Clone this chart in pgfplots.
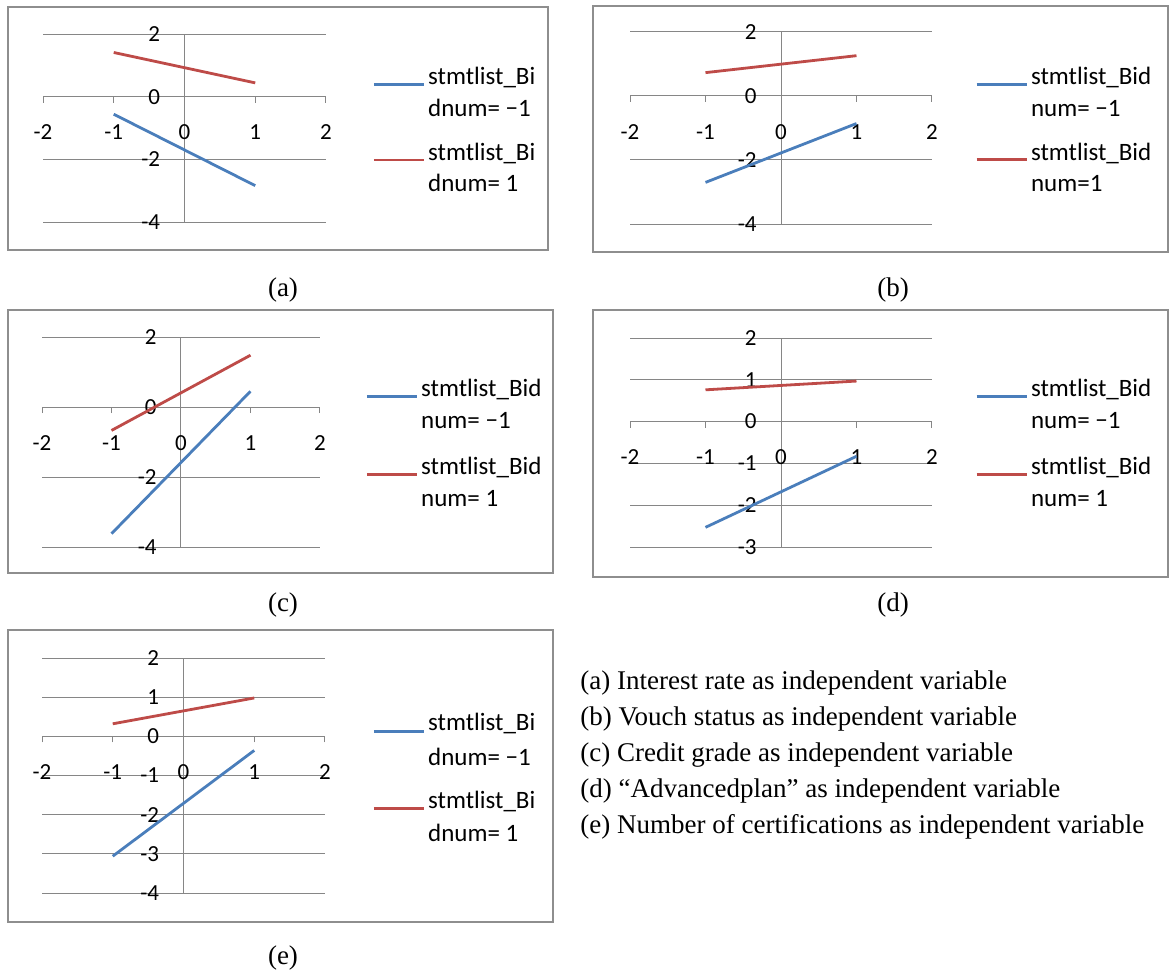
\documentclass[border=0pt]{standalone}
\usepackage{fontspec}
\setmainfont{Liberation Serif}
\newfontfamily\carlito{Carlito}
\usepackage{pgfplots}
\pgfplotsset{compat=1.18}
\definecolor{xblue}{HTML}{4A7EBB}
\definecolor{xred}{HTML}{BE4B48}
\definecolor{xgrid}{HTML}{868686}
\definecolor{xframe}{HTML}{8E8E8E}
\pgfplotsset{
  legend image code/.code={\path[draw=none,fill=none] (0pt,-7.5pt) -- (0pt,0.5pt); \draw[#1] (0pt,0pt) -- (25pt,0pt);},
  panel/.style={
    scale only axis, axis lines=middle,
    axis line style={draw=xgrid, line width=0.5pt, -},
    xmin=-2, xmax=2, xtick={-2,-1,0,1,2},
    ymajorgrids, grid style={draw=xgrid, line width=0.5pt},
    enlargelimits=false, clip=false,
    hide obscured x ticks=false, hide obscured y ticks=false,
    /pgf/number format/assume math mode=true,
    tick label style={font=\carlito\fontsize{11.5}{13}\selectfont, text=black},
    xticklabel style={anchor=north, inner sep=0pt, yshift=-11pt},
    yticklabel style={anchor=east, inner sep=0pt, xshift=-9pt},
    xtick style={draw=xgrid, line width=0.5pt}, ytick style={draw=none},
    tick align=outside, major tick length=3pt,
    legend cell align=left,
    legend style={draw=none, fill=none, inner sep=0pt, anchor=north west,
      column sep=1.5pt, row sep=0pt,
      font=\carlito\fontsize{12.5}{14}\selectfont,
      nodes={inner sep=0pt, text height=8pt, text depth=8pt}},
  },
  bl/.style={color=xblue, line width=1.4pt, no marks},
  rl/.style={color=xred, line width=1.4pt, no marks},
}
\begin{document}
\begin{tikzpicture}
\begin{scope}[x=0.5pt,y=-0.5pt]
\useasboundingbox (0,0) rectangle (1173,974);
\draw[xframe, line width=0.75pt] (8,7) rectangle (548,250);
\draw[xframe, line width=0.75pt] (593,6) rectangle (1168,252);
\draw[xframe, line width=0.75pt] (8,310) rectangle (553,573);
\draw[xframe, line width=0.75pt] (593,310) rectangle (1168,577);
\draw[xframe, line width=0.75pt] (8,630) rectangle (553,922);
\node[font=\fontsize{13.5}{15}\selectfont] at (283,290) {(a)};
\node[font=\fontsize{13.5}{15}\selectfont] at (893,290) {(b)};
\node[font=\fontsize{13.5}{15}\selectfont] at (283,605) {(c)};
\node[font=\fontsize{13.5}{15}\selectfont] at (893,605) {(d)};
\node[font=\fontsize{13.5}{15}\selectfont] at (283,958) {(e)};
\begin{scope}[every node/.style={anchor=west, inner sep=0pt, font=\fontsize{13.5}{15}\selectfont}]
\node at (580,683) {(a) Interest rate as independent variable};
\node at (580,719) {(b) Vouch status as independent variable};
\node at (580,755) {(c) Credit grade as independent variable};
\node at (580,791) {(d) “Advancedplan” as independent variable};
\node at (580,827) {(e) Number of certifications as independent variable};
\end{scope}
\end{scope}

% (a)
\begin{axis}[panel, at={(21.5pt,-111pt)}, anchor=south west,
  width=141.5pt, height=94pt, ymin=-4, ymax=2, ytick={-4,-2,0,2},
  legend style={at={(1.1625,0.819)}}]
\addplot[bl] coordinates {(-1,-0.56) (1,-2.84)};
\addlegendentry{stmtlist\_Bi}
\addlegendimage{empty legend}\addlegendentry[text depth=14pt]{dnum= −1}
\addplot[rl] coordinates {(-1,1.41) (1,0.44)};
\addlegendentry[text depth=7.5pt]{stmtlist\_Bi}
\addlegendimage{empty legend}\addlegendentry{dnum= 1}
\end{axis}

% (b)
\begin{axis}[panel, at={(315pt,-112pt)}, anchor=south west,
  width=151pt, height=96pt, ymin=-4, ymax=2, ytick={-4,-2,0,2},
  legend style={at={(1.142,0.8125)}}]
\addplot[bl] coordinates {(-1,-2.70) (1,-0.86)};
\addlegendentry{stmtlist\_Bid}
\addlegendimage{empty legend}\addlegendentry[text depth=14pt]{num= −1}
\addplot[rl] coordinates {(-1,0.73) (1,1.26)};
\addlegendentry[text depth=7.5pt]{stmtlist\_Bid}
\addlegendimage{empty legend}\addlegendentry{num=1}
\end{axis}

% (c)
\begin{axis}[panel, at={(21pt,-273.5pt)}, anchor=south west,
  width=139pt, height=105pt, ymin=-4, ymax=2, ytick={-4,-2,0,2},
  legend style={at={(1.162,0.795)}}]
\addplot[bl] coordinates {(-1,-3.62) (1,0.45)};
\addlegendentry{stmtlist\_Bid}
\addlegendimage{empty legend}\addlegendentry[text depth=15pt]{num= −1}
\addplot[rl] coordinates {(-1,-0.67) (1,1.48)};
\addlegendentry{stmtlist\_Bid}
\addlegendimage{empty legend}\addlegendentry{num= 1}
\end{axis}

% (d)
\begin{axis}[panel, at={(315pt,-273.5pt)}, anchor=south west,
  width=151pt, height=104.5pt, ymin=-3, ymax=2, ytick={-3,-2,-1,0,1,2},
  legend style={at={(1.142,0.799)}}]
\addplot[bl] coordinates {(-1,-2.53) (1,-0.83)};
\addlegendentry{stmtlist\_Bid}
\addlegendimage{empty legend}\addlegendentry[text depth=15pt]{num= −1}
\addplot[rl] coordinates {(-1,0.76) (1,0.97)};
\addlegendentry{stmtlist\_Bid}
\addlegendimage{empty legend}\addlegendentry{num= 1}
\end{axis}

% (e)
\begin{axis}[panel, at={(21pt,-446.5pt)}, anchor=south west,
  width=141.5pt, height=117.5pt, ymin=-4, ymax=2, ytick={-4,-3,-2,-1,0,1,2},
  legend style={at={(1.166,0.762)}}]
\addplot[bl] coordinates {(-1,-3.06) (1,-0.36)};
\addlegendentry[text depth=9.5pt]{stmtlist\_Bi}
\addlegendimage{empty legend}\addlegendentry[text depth=13.5pt]{dnum= −1}
\addplot[rl] coordinates {(-1,0.32) (1,0.98)};
\addlegendentry[text depth=8.5pt]{stmtlist\_Bi}
\addlegendimage{empty legend}\addlegendentry{dnum= 1}
\end{axis}
\end{tikzpicture}
\end{document}
